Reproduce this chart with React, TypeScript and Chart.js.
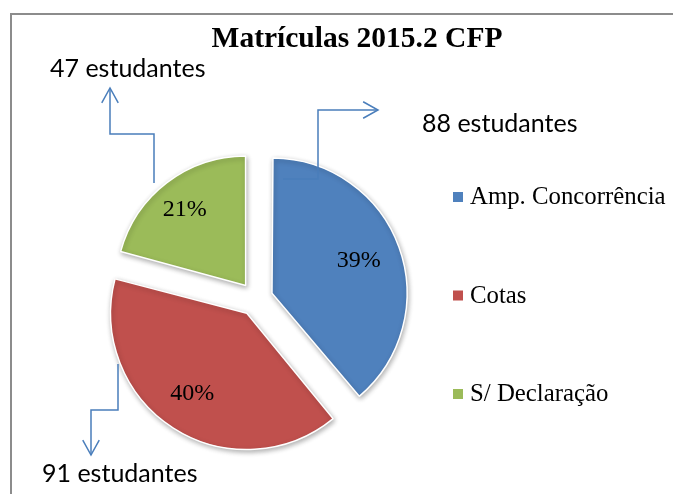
import React, { useEffect, useRef } from 'react';
import { Chart, registerables } from 'chart.js';

Chart.register(...registerables);

// ---- data ----
const categories = ['Amp. Concorrência', 'Cotas', 'S/ Declaração'];
const students = [88, 91, 47];
const sliceColors = ['#4F81BD', '#C0504D', '#9BBB59'];
const calloutSuffix = ' estudantes';
const chartTitle = 'Matrículas 2015.2 CFP';

// ---- layout (pixels) ----
const W = 673;
const H = 494;
const PIE_RADIUS = 129;
const SLICE_OFFSET = 68; // Chart.js translates arcs by offset / 4
const SERIF = '"Liberation Serif", "Times New Roman", serif';
const SANS = 'Lato, "Open Sans", sans-serif';
const LINE_BLUE = '#4A7EBB';

// callout leader lines and text anchors, relative to the pie centre
const callouts = [
  { path: [[27, -120], [62, -120], [62, -189], [122, -189]], text: [166, -167] },
  { path: [[-138, 65], [-138, 111], [-165, 111], [-165, 156]], text: [-214, 183] },
  { path: [[-102, -116], [-102, -165], [-146, -165], [-146, -211]], text: [-206, -222] },
];

const drawArrowHead = (ctx: CanvasRenderingContext2D, fx: number, fy: number, tx: number, ty: number) => {
  const ang = Math.atan2(ty - fy, tx - fx);
  const len = 17;
  const spread = (29 * Math.PI) / 180;
  ctx.beginPath();
  ctx.moveTo(tx - len * Math.cos(ang - spread), ty - len * Math.sin(ang - spread));
  ctx.lineTo(tx, ty);
  ctx.lineTo(tx - len * Math.cos(ang + spread), ty - len * Math.sin(ang + spread));
  ctx.stroke();
};

const decorPlugin = {
  id: 'decor',
  beforeDraw(chart: any) {
    const ctx: CanvasRenderingContext2D = chart.ctx;
    ctx.save();
    ctx.fillStyle = '#ffffff';
    ctx.fillRect(0, 0, W, H);
    // frame
    ctx.strokeStyle = '#8c8c8c';
    ctx.lineWidth = 2;
    ctx.beginPath();
    ctx.moveTo(11, H + 5);
    ctx.lineTo(11, 14);
    ctx.lineTo(W + 5, 14);
    ctx.stroke();
    // title
    ctx.fillStyle = '#000000';
    ctx.font = `bold 29.5px ${SERIF}`;
    ctx.textAlign = 'center';
    ctx.textBaseline = 'alphabetic';
    ctx.fillText(chartTitle, 357, 47);
    ctx.restore();
  },
  beforeDatasetsDraw(chart: any) {
    const ctx: CanvasRenderingContext2D = chart.ctx;
    ctx.save();
    ctx.shadowColor = 'rgba(0,0,0,0.3)';
    ctx.shadowBlur = 5;
    ctx.shadowOffsetX = 1;
    ctx.shadowOffsetY = 2;
  },
  afterDatasetsDraw(chart: any) {
    const ctx: CanvasRenderingContext2D = chart.ctx;
    ctx.restore();
    const meta = chart.getDatasetMeta(0);
    const total = students.reduce((a, b) => a + b, 0);
    ctx.save();
    ctx.fillStyle = '#000000';
    ctx.font = `24px ${SERIF}`;
    ctx.textAlign = 'center';
    ctx.textBaseline = 'alphabetic';
    meta.data.forEach((arc: any, i: number) => {
      const { x, y, startAngle, endAngle } = arc.getProps(['x', 'y', 'startAngle', 'endAngle'], true);
      const mid = (startAngle + endAngle) / 2;
      const d = SLICE_OFFSET / 4 + 0.74 * PIE_RADIUS;
      const px = x + Math.cos(mid) * d;
      const py = y + Math.sin(mid) * d;
      const pct = Math.round((students[i] / total) * 100);
      ctx.fillText(`${pct}%`, px - 3, py + 6);
    });
    ctx.restore();
  },
  afterDraw(chart: any) {
    const ctx: CanvasRenderingContext2D = chart.ctx;
    const area = chart.chartArea;
    const cx = (area.left + area.right) / 2;
    const cy = (area.top + area.bottom) / 2;
    ctx.save();
    // callouts
    callouts.forEach((c, i) => {
      ctx.strokeStyle = LINE_BLUE;
      ctx.lineWidth = 1.5;
      ctx.lineJoin = 'miter';
      ctx.beginPath();
      c.path.forEach(([dx, dy], k) => {
        if (k === 0) ctx.moveTo(cx + dx, cy + dy);
        else ctx.lineTo(cx + dx, cy + dy);
      });
      ctx.stroke();
      const n = c.path.length;
      const [ax, ay] = c.path[n - 2];
      const [bx, by] = c.path[n - 1];
      drawArrowHead(ctx, cx + ax, cy + ay, cx + bx, cy + by);
      ctx.fillStyle = '#000000';
      ctx.font = `25px ${SANS}`;
      ctx.textAlign = 'left';
      ctx.textBaseline = 'alphabetic';
      ctx.fillText(`${students[i]}${calloutSuffix}`, cx + c.text[0], cy + c.text[1]);
    });
    // legend
    ctx.font = `24.8px ${SERIF}`;
    ctx.textAlign = 'left';
    ctx.textBaseline = 'alphabetic';
    categories.forEach((label, i) => {
      const rowY = 197 + i * 98.5;
      ctx.fillStyle = sliceColors[i];
      ctx.fillRect(453, rowY - 5, 10, 10);
      ctx.fillStyle = '#000000';
      ctx.fillText(label, 470, rowY + 7);
    });
    ctx.restore();
  },
};

export default function App() {
  const canvasRef = useRef<HTMLCanvasElement | null>(null);

  useEffect(() => {
    if (!canvasRef.current) return;
    const chart = new Chart(canvasRef.current, {
      type: 'pie',
      data: {
        labels: categories,
        datasets: [
          {
            data: students,
            backgroundColor: sliceColors,
            borderColor: '#ffffff',
            borderWidth: 1.5,
            offset: SLICE_OFFSET,
            hoverOffset: 0,
          },
        ],
      },
      options: {
        responsive: false,
        animation: false,
        radius: PIE_RADIUS,
        events: [],
        layout: { padding: { left: 0, right: 161, top: 149, bottom: 45 } },
        plugins: {
          legend: { display: false },
          title: { display: false },
          tooltip: { enabled: false },
        },
      } as any,
      plugins: [decorPlugin],
    });
    return () => chart.destroy();
  }, []);

  return (
    <div style={{ position: 'absolute', left: 0, top: 0, width: W, height: H, background: '#fff' }}>
      <canvas ref={canvasRef} width={W} height={H} style={{ display: 'block', width: W, height: H }} />
    </div>
  );
}
